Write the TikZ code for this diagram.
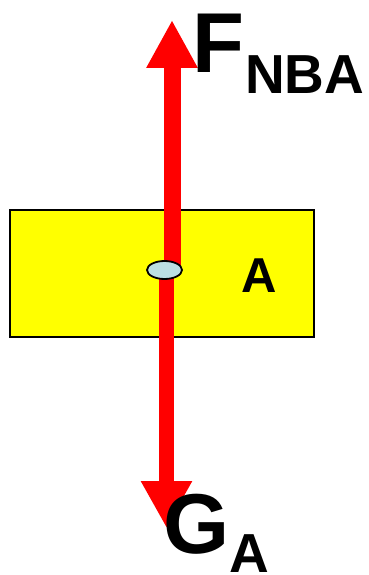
\documentclass[tikz,border=0pt]{standalone}
\usepackage{fontspec}
\setmainfont{Liberation Sans}
\usetikzlibrary{arrows.meta,shapes.geometric}
\definecolor{dotblue}{RGB}{187,224,227}
\definecolor{boxyellow}{RGB}{255,255,0}
\definecolor{forcered}{RGB}{255,0,0}
\tikzset{
  force/.style={draw=forcered, fill=forcered, line cap=butt},
  lbl/.style={inner sep=0pt, anchor=base west, font=\bfseries},
}
\begin{document}
\begin{tikzpicture}[x=1pt,y=-1pt]
\useasboundingbox (0,0) rectangle (369,575);
\node[draw=black, fill=boxyellow, line width=1.5pt, minimum width=304pt, minimum height=127pt, inner sep=0pt] (box) at (162,273.5) {};
\node[inner sep=0pt, anchor=base, font=\bfseries\fontsize{49}{49}\selectfont] (labA) at (259,292) {A};
\coordinate (o1) at (172,270);
\coordinate (t1) at (172,20);
\coordinate (o2) at (166.5,270);
\coordinate (t2) at (166.5,528);
\draw[force, line width=17pt, -{Triangle[length=48pt,width=48pt]}] (o1) -- (t1);
\draw[force, line width=15pt, -{Triangle[length=47pt,width=48pt]}] (o2) -- (t2);
\node[ellipse, draw=black, line width=1.8pt, fill=dotblue, minimum width=35pt, minimum height=18pt, inner sep=0pt] (p) at (164.5,270) {};
\node[lbl, font=\bfseries\fontsize{85}{85}\selectfont] (F) at (192,73) {F};
\node[lbl, font=\bfseries\fontsize{55}{55}\selectfont] (NBA) at (245,94) {NBA};
\node[lbl, font=\bfseries\fontsize{85}{85}\selectfont] (G) at (163,553) {G};
\node[lbl, font=\bfseries\fontsize{55}{55}\selectfont] (GA) at (229,572) {A};
\end{tikzpicture}
\end{document}
